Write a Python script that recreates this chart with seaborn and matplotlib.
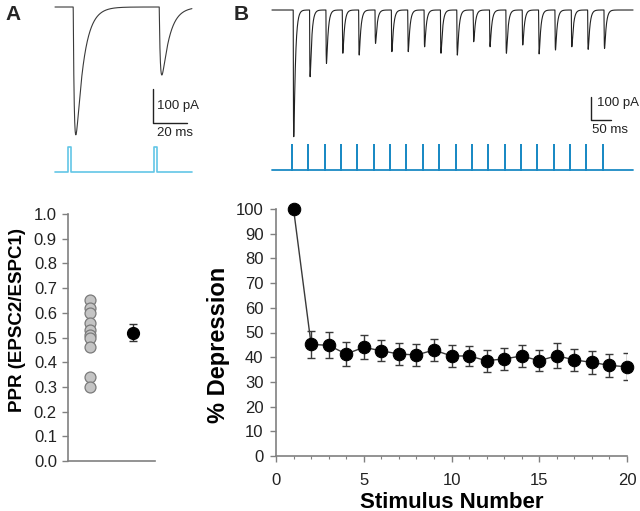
import numpy as np
import pandas as pd
import matplotlib
matplotlib.use("Agg")
import matplotlib.pyplot as plt
import seaborn as sns

# --- data ---
# panel A: paired pulse trace (pulse times in ms, EPSC peak amplitudes in pA)
pair_times = [0, 50]
pair_amps = [376, 200]

# panel B: 20-pulse train (interval 40 ms)
train_times = [i * 40 for i in range(20)]
train_amps = [551, 290, 232, 188, 196, 145, 181, 181, 160, 188,
              196, 138, 160, 188, 152, 191, 174, 160, 171, 167]

# PPR scatter
ppr_values = [0.65, 0.62, 0.60, 0.56, 0.53, 0.51, 0.50, 0.46, 0.34, 0.30]
ppr_mean = 0.52
ppr_sem = 0.035

# % depression vs stimulus number
stim_number = list(range(1, 21))
depression = [100, 45.2, 44.8, 41.3, 44.0, 42.6, 41.3, 40.9, 42.9, 40.5,
              40.5, 38.6, 39.3, 40.5, 38.6, 40.6, 38.9, 37.9, 36.7, 36.1]
depression_err = [0, 5.4, 5.3, 4.7, 4.9, 4.3, 4.5, 4.6, 4.5, 4.5,
                  4.2, 4.5, 4.4, 4.5, 4.2, 5.0, 4.5, 4.5, 4.6, 5.5]


def epsc_trace(t, times, amps, delay=3.0, rise=0.8, decay=4.5):
    # sum of EPSC waveforms, each scaled so its peak equals the given amplitude
    y = np.zeros_like(t)
    s_pk = rise * np.log(1 + decay / rise)
    norm = (1 - np.exp(-s_pk / rise)) * np.exp(-s_pk / decay)
    for t0, a in zip(times, amps):
        s = np.clip(t - t0 - delay, 0, None)
        w = (1 - np.exp(-s / rise)) * np.exp(-s / decay)
        y -= a * w / norm
    return y


def stim_steps(times, start, end, width):
    xs, ys = [start], [0]
    for t0 in times:
        xs += [t0, t0, t0 + width, t0 + width]
        ys += [0, 1, 1, 0]
    xs.append(end)
    ys.append(0)
    return np.array(xs), np.array(ys)


sns.set_style("ticks")
plt.rcParams["font.family"] = ["Liberation Sans", "DejaVu Sans"]
plt.rcParams["axes.edgecolor"] = "#808080"
plt.rcParams["xtick.color"] = "#808080"
plt.rcParams["ytick.color"] = "#808080"
plt.rcParams["xtick.labelcolor"] = "#222222"
plt.rcParams["ytick.labelcolor"] = "#222222"

W, H = 640, 511
fig = plt.figure(figsize=(6.4, 5.11), dpi=100)


def px_axes(x0, y0, x1, y1):
    # axes rectangle given in pixel coords (top-left origin)
    return fig.add_axes([x0 / W, 1 - y1 / H, (x1 - x0) / W, (y1 - y0) / H])


# ---------------- panel A trace ----------------
axA = px_axes(50, 0, 200, 180)
axA.set_xlim(-10.5, 76.7)
axA.set_ylim(-508.8, 20.6)
axA.axis("off")
tA = np.linspace(-7.6, 72, 1500)
trA = pd.DataFrame({"t": tA, "i": epsc_trace(tA, pair_times, pair_amps)})
sns.lineplot(data=trA, x="t", y="i", ax=axA, color="#3a3a3a", lw=0.8,
             sort=False, estimator=None)
sx, sy = stim_steps(pair_times, -7.6, 72, 1.5)
stA = pd.DataFrame({"t": sx, "v": -485 + sy * 73})
sns.lineplot(data=stA, x="t", y="v", ax=axA, color="#62c6e6", lw=1.2,
             sort=False, estimator=None)
# scale bar
axA.plot([49.4, 49.4, 69.4], [-241, -341, -341], color="#222222", lw=1)
axA.text(51.7, -290, "100 pA", fontsize=9.5, va="center", ha="left", color="#222222")
axA.text(51.7, -372, "20 ms", fontsize=9.5, va="center", ha="left", color="#222222")

# ---------------- panel B trace ----------------
axB = px_axes(265, 0, 640, 180)
axB.set_xlim(-66, 851)
axB.set_ylim(-739, 43.5)
axB.axis("off")
tB = np.linspace(-49, 834, 6000)
trB = pd.DataFrame({"t": tB, "i": epsc_trace(tB, train_times, train_amps, rise=0.7, decay=4.0)})
sns.lineplot(data=trB, x="t", y="i", ax=axB, color="#222222", lw=0.8,
             sort=False, estimator=None)
sx, sy = stim_steps(train_times, -49, 834, 0.0)
stB = pd.DataFrame({"t": sx, "v": -696 + sy * 109})
sns.lineplot(data=stB, x="t", y="v", ax=axB, color="#1b8ac4", lw=1.3,
             sort=False, estimator=None)
axB.plot([731, 731, 781], [-378, -478, -478], color="#222222", lw=1)
axB.text(745, -404, "100 pA", fontsize=9.5, va="center", ha="left", color="#222222")
axB.text(734, -522, "50 ms", fontsize=9.5, va="center", ha="left", color="#222222")

fig.text(13 / W, 1 - 14 / H, "A", fontsize=15, fontweight="bold", ha="center", va="center")
fig.text(241 / W, 1 - 14 / H, "B", fontsize=15, fontweight="bold", ha="center", va="center")

# ---------------- PPR plot ----------------
axP = px_axes(68, 214, 155, 461)
pdf = pd.DataFrame({"x": [1] * len(ppr_values), "ppr": ppr_values})
sns.scatterplot(data=pdf, x="x", y="ppr", ax=axP, s=62, color="#c4c4c4",
                edgecolor="#7a7a7a", linewidth=0.9, zorder=3, clip_on=False)
axP.errorbar([3], [ppr_mean], yerr=[ppr_sem], fmt="o", color="black", ms=8.5,
             ecolor="#333333", elinewidth=1, capsize=3, zorder=4)
axP.set_xlim(0, 4)
axP.set_ylim(0, 1.0)
axP.set_yticks(np.arange(0, 1.01, 0.1))
axP.set_yticklabels([f"{v:.1f}" for v in np.arange(0, 1.01, 0.1)])
axP.set_xticks([])
axP.tick_params(axis="y", labelsize=12, length=4, width=1, pad=4)
axP.set_xlabel("")
axP.set_ylabel("PPR (EPSC2/ESPC1)", fontsize=13.5, fontweight="bold", color="black")
axP.yaxis.label.set_va("center")
axP.yaxis.set_label_coords((18 - 68) / 87, 0.5 - (320 - 337.5) / 247)
sns.despine(ax=axP)
for sp in axP.spines.values():
    sp.set_linewidth(1.2)

# ---------------- depression plot ----------------
axD = px_axes(276, 209, 627, 456)
ddf = pd.DataFrame({"stim": stim_number, "dep": depression})
axD.errorbar(stim_number[1:], depression[1:], yerr=depression_err[1:], fmt="none",
             ecolor="#3a3a3a", elinewidth=1, capsize=3, zorder=2)
sns.lineplot(data=ddf, x="stim", y="dep", ax=axD, color="#3a3a3a", lw=1,
             marker="o", markersize=9, markerfacecolor="black",
             markeredgecolor="black", zorder=3, clip_on=False)
axD.set_xlim(0, 20)
axD.set_ylim(0, 100)
axD.set_xticks(range(0, 21, 5))
axD.set_xticks(range(0, 21), minor=True)
axD.set_yticks(range(0, 101, 10))
axD.tick_params(axis="both", labelsize=12, length=4, width=1)
axD.tick_params(axis="y", pad=5)
axD.tick_params(axis="x", which="minor", length=2.5, width=0.8)
axD.tick_params(axis="x", pad=8)
axD.set_xlabel("Stimulus Number", fontsize=16, fontweight="bold", color="black")
axD.set_ylabel("% Depression", fontsize=17, fontweight="bold", color="black")
axD.xaxis.label.set_va("center")
axD.yaxis.label.set_va("center")
axD.xaxis.set_label_coords((452 - 276) / 351, (456 - 502) / 247)
axD.yaxis.set_label_coords((219 - 276) / 351, (456 - 345) / 247)
sns.despine(ax=axD)
for sp in axD.spines.values():
    sp.set_linewidth(1.2)

fig.savefig("out.png", dpi=100)
